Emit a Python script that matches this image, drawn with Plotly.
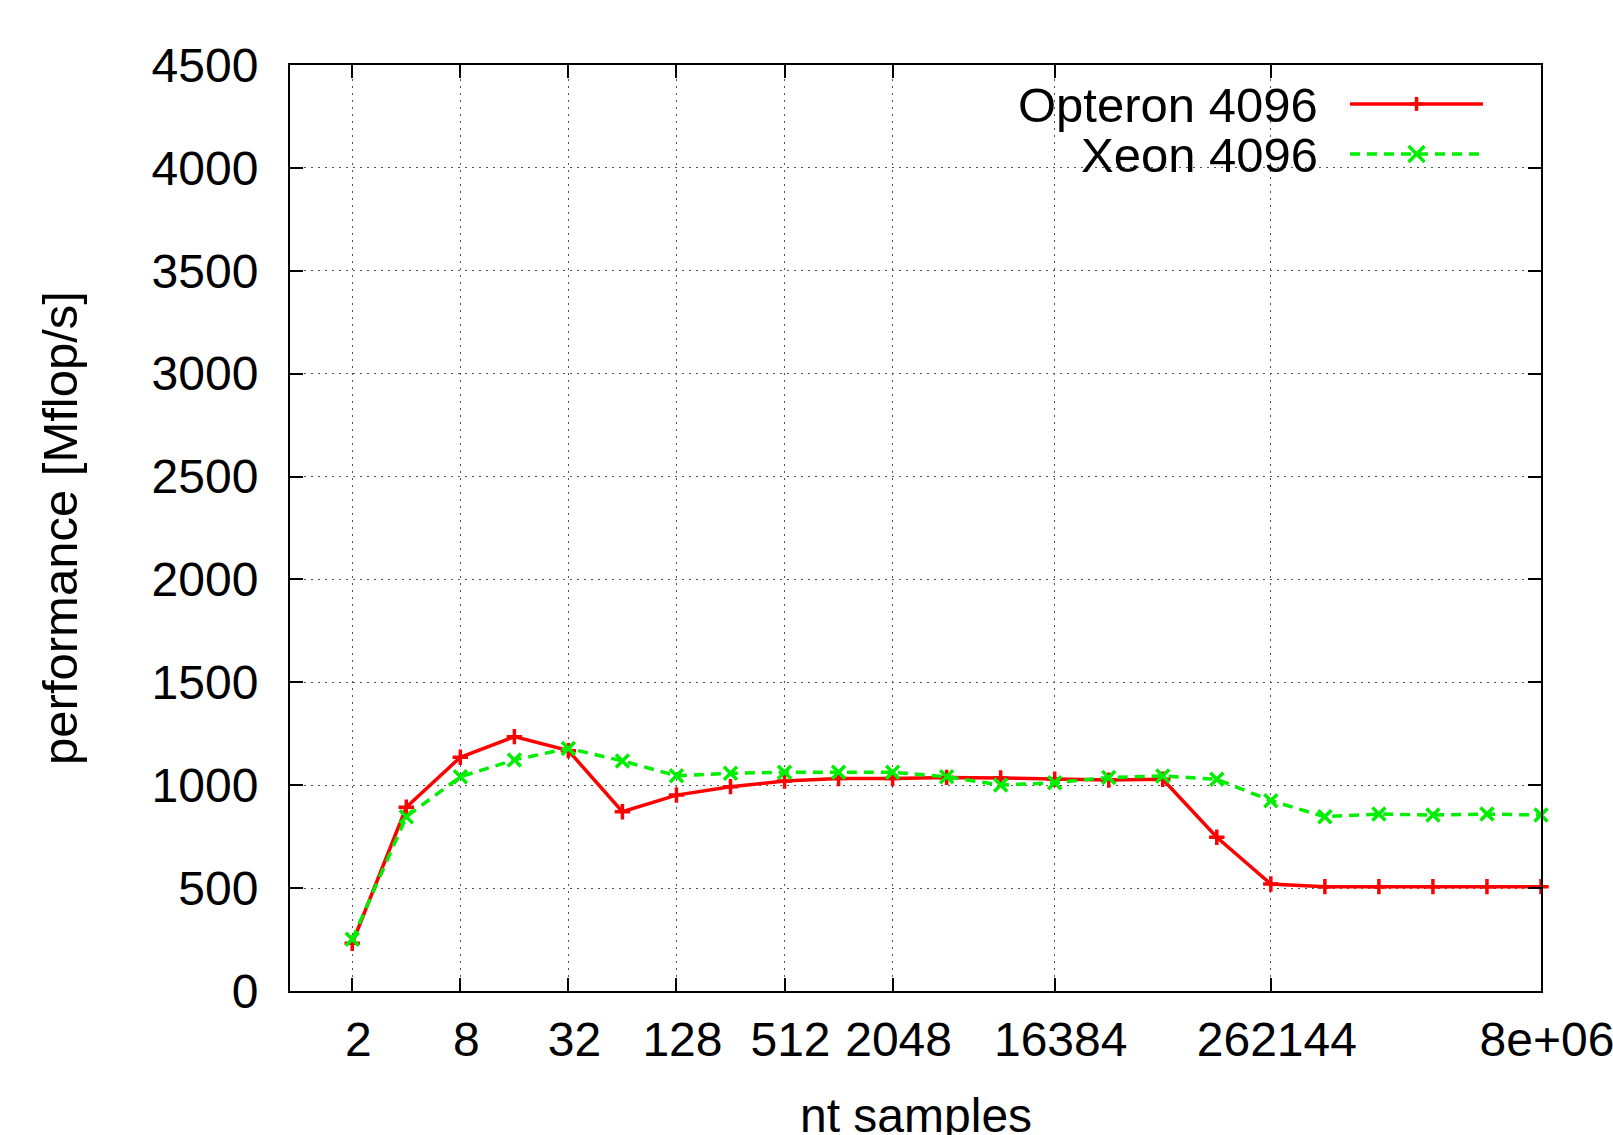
import plotly.graph_objects as go

# nt samples (powers of two, 2^1 .. 2^23)
nt_samples = [2, 4, 8, 16, 32, 64, 128, 256, 512, 1024, 2048, 4096, 8192, 16384,
              32768, 65536, 131072, 262144, 524288, 1048576, 2097152, 4194304, 8388608]

opteron_4096 = [232, 893, 1136, 1236, 1168, 871, 952, 993, 1020, 1033, 1033, 1038, 1035,
                1029, 1025, 1029, 747, 520, 507, 507, 507, 507, 507]

xeon_4096 = [251, 847, 1041, 1123, 1179, 1118, 1046, 1058, 1063, 1063, 1063, 1041, 1001,
             1012, 1038, 1045, 1029, 925, 847, 860, 855, 860, 855]

x_tickvals = [2, 8, 32, 128, 512, 2048, 16384, 262144, 8388608]
x_ticktext = ["2", "8", "32", "128", "512", "2048", "16384", "262144", "8e+06"]
y_tickvals = [0, 500, 1000, 1500, 2000, 2500, 3000, 3500, 4000, 4500]

FONT = "Liberation Sans, Arial, sans-serif"
RED = "#ff0000"
GREEN = "#00ee00"
GRID_DASH = "2px,5px"

fig = go.Figure()

fig.add_trace(go.Scatter(
    x=nt_samples, y=opteron_4096, mode="lines+markers", name="Opteron 4096",
    line=dict(color=RED, width=3.5),
    marker=dict(symbol="cross-thin-open", size=11, color=RED, line=dict(color=RED, width=3.5)),
    cliponaxis=False, showlegend=False,
))
fig.add_trace(go.Scatter(
    x=nt_samples, y=xeon_4096, mode="lines+markers", name="Xeon 4096",
    line=dict(color=GREEN, width=3.5, dash="10px,7px"),
    marker=dict(symbol="x-thin-open", size=13, color=GREEN, line=dict(color=GREEN, width=3.5)),
    cliponaxis=False, showlegend=False,
))

shapes = []
# white legend background (hides grid)
shapes.append(dict(type="rect", xref="paper", yref="paper", x0=0.539, x1=0.978, y0=0.879, y1=0.997,
                   fillcolor="white", line=dict(width=0), layer="between"))

legend_rows = [("Opteron 4096", RED, "solid", "plus", 0.958),
               ("Xeon 4096", GREEN, "10px,7px", "x", 0.904)]
annotations = []
for label, color, dash, mk, yy in legend_rows:
    annotations.append(dict(text=label, xref="paper", yref="paper", x=0.8235, y=yy - 0.001,
                            xanchor="right", yanchor="middle", showarrow=False,
                            font=dict(family=FONT, size=49, color="black")))
    shapes.append(dict(type="line", xref="paper", yref="paper", x0=0.8473, x1=0.9536, y0=yy, y1=yy,
                       line=dict(color=color, width=3.5, dash=dash), layer="above"))
    if mk == "plus":
        segs = [(-7, 0, 7, 0), (0, -7, 0, 7)]
    else:
        segs = [(-8, -8, 8, 8), (-8, 8, 8, -8)]
    for ax0, ay0, ax1, ay1 in segs:
        shapes.append(dict(type="line", xref="paper", yref="paper",
                           xsizemode="pixel", ysizemode="pixel", xanchor=0.9005, yanchor=yy,
                           x0=ax0, x1=ax1, y0=ay0, y1=ay1,
                           line=dict(color=color, width=3.5), layer="above"))

# x-axis title (placed as annotation so it may run past the bottom edge as in the original)
annotations.append(dict(text="nt samples", xref="paper", yref="paper", x=0.5, y=-0.134,
                        xanchor="center", yanchor="middle", showarrow=False,
                        font=dict(family=FONT, size=48, color="black")))

fig.update_layout(
    width=1613, height=1135, autosize=False,
    margin=dict(l=290, r=72, t=65, b=144, pad=0, autoexpand=False),
    paper_bgcolor="white", plot_bgcolor="white",
    font=dict(family=FONT, size=48, color="black"),
    shapes=shapes, annotations=annotations, showlegend=False,
    xaxis=dict(
        type="log", range=[-0.0458, 6.9237], automargin=False,
        tickvals=x_tickvals, ticktext=x_ticktext,
        ticks="inside", ticklen=13, tickwidth=2, tickcolor="black",
        showline=True, linecolor="black", linewidth=2, mirror="ticks",
        showgrid=True, gridcolor="#555555", gridwidth=1, griddash=GRID_DASH,
        zeroline=False, ticklabelstandoff=5, ticklabelshift=6, ticklabeloverflow="allow",
        tickfont=dict(family=FONT, size=48, color="black"),
    ),
    yaxis=dict(
        range=[0, 4500], tickvals=y_tickvals, automargin=False,
        ticks="inside", ticklen=13, tickwidth=2, tickcolor="black",
        showline=True, linecolor="black", linewidth=2, mirror="ticks",
        showgrid=True, gridcolor="#555555", gridwidth=1, griddash=GRID_DASH,
        zeroline=False, ticklabelstandoff=20,
        tickfont=dict(family=FONT, size=48, color="black"),
        title=dict(text="performance [Mflop/s]", font=dict(family=FONT, size=49, color="black"), standoff=58),
    ),
)

fig.write_html("out.html")
